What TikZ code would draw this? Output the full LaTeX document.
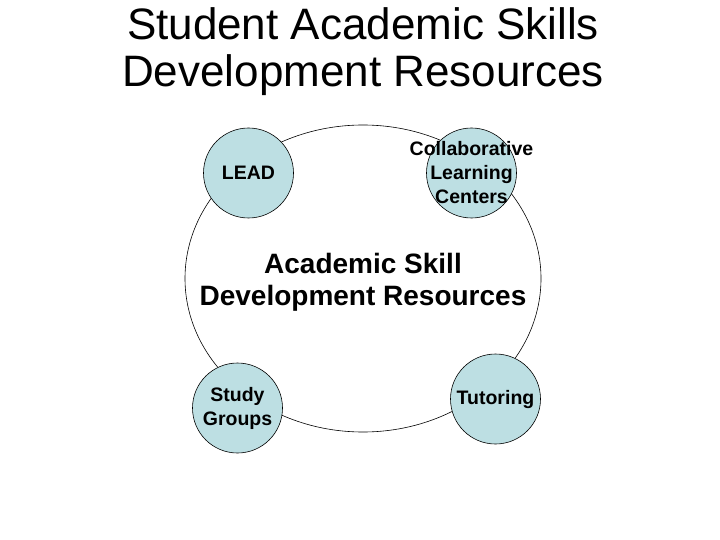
\documentclass[tikz,border=0pt]{standalone}
\usepackage{fontspec}
\setmainfont{Liberation Sans}
\usetikzlibrary{shapes.geometric}
\definecolor{bubble}{RGB}{189,223,227}
\tikzset{
  bubble/.style={circle, draw=black, line width=0.6pt, fill=bubble, minimum size=90pt, inner sep=0pt},
  bubbletext/.style={align=center, inner sep=0pt, font=\bfseries\fontsize{19.5}{24}\selectfont},
  ring/.style={ellipse, draw=black, line width=0.6pt, minimum width=356pt, minimum height=307pt, inner sep=0pt},
  ringtext/.style={align=center, inner sep=0pt, font=\bfseries\fontsize{28}{32}\selectfont},
  title/.style={align=center, font=\fontsize{44}{47}\selectfont, inner sep=0pt}
}
\begin{document}
\begin{tikzpicture}[x=1pt,y=-1pt]
\useasboundingbox (0,0) rectangle (720,540);
\node[title] (title) at (363,52) {Student Academic Skills\\Development Resources};
\node[ring] (ring) at (363,278.5) {};
\node[ringtext] (ringlabel) at (363,282) {Academic Skill\\Development Resources};
\node[bubble] (lead) at (248.5,173) {};
\node[bubble] (clc) at (471.5,173) {};
\node[bubble] (study) at (237.5,408) {};
\node[bubble] (tutor) at (495.5,399) {};
\node[bubbletext] (leadlabel) at (lead.center) {LEAD};
\node[bubbletext] (clclabel) at (clc.center) {Collaborative\\Learning\\Centers};
\node[bubbletext] (studylabel) at (study.center) {Study\\Groups};
\node[bubbletext] (tutorlabel) at (tutor.center) {Tutoring};
\end{tikzpicture}
\end{document}
